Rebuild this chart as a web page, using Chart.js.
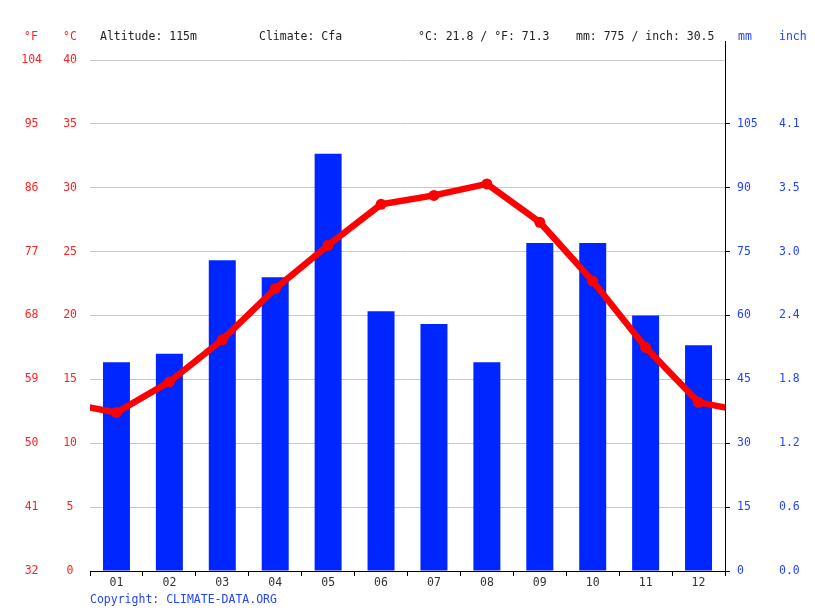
<!DOCTYPE html>
<html>
<head>
<meta charset="utf-8">
<script src="https://cdn.jsdelivr.net/npm/chart.js@4/dist/chart.umd.min.js"></script>
<style>
  html, body { margin: 0; padding: 0; background: #fff; }
  #wrap { position: relative; width: 815px; height: 611px; }
  canvas { position: absolute; left: 0; top: 0; }
  .t { position: absolute; font-family: "DejaVu Sans Mono", monospace; font-size: 11.5px; line-height: 14px; white-space: pre; }
  .red { color: #ff2222; }
  .blue { color: #2244ff; }
  .dark { color: #222; }
</style>
</head>
<body>
<div id="wrap">
  <canvas id="c" width="815" height="611"></canvas>
  <div class="t red" style="left:24px; top:29px;">°F</div>
  <div class="t red" style="left:63px; top:29px;">°C</div>
  <div class="t dark" style="left:100px; top:29px;">Altitude: 115m</div>
  <div class="t dark" style="left:259px; top:29px;">Climate: Cfa</div>
  <div class="t dark" style="left:418px; top:29px;">°C: 21.8 / °F: 71.3</div>
  <div class="t dark" style="left:576px; top:29px;">mm: 775 / inch: 30.5</div>
  <div class="t blue" style="left:738px; top:29px;">mm</div>
  <div class="t blue" style="left:779px; top:29px;">inch</div>
  <div class="t blue" style="left:90px; top:592px;">Copyright: CLIMATE-DATA.ORG</div>
</div>
<script>
// ---- data ----
const months = ['01','02','03','04','05','06','07','08','09','10','11','12'];
const precipMm = [49, 51, 73, 69, 98, 61, 58, 49, 77, 77, 60, 53];
const tempC = [12.4, 14.8, 18.1, 22.1, 25.5, 28.7, 29.4, 30.3, 27.3, 22.7, 17.5, 13.2];
// tick labels
const cTicks = [0, 5, 10, 15, 20, 25, 30, 35, 40];
const fTicks = ['32', '41', '50', '59', '68', '77', '86', '95', '104'];
const mmTicks = [0, 15, 30, 45, 60, 75, 90, 105];
const inchTicks = ['0.0', '0.6', '1.2', '1.8', '2.4', '3.0', '3.5', '4.1'];

const FONT = { family: 'DejaVu Sans Mono', size: 11.5 };
const RED = '#ff0000';
const RED_TEXT = '#ff2222';
const BLUE = '#2244ff';

// line data: wrap December before January and January after December (clipped to plot)
const lineData = [{ x: 0, y: tempC[11] }]
  .concat(tempC.map((v, i) => ({ x: i + 1, y: v })))
  .concat([{ x: 13, y: tempC[0] }]);
const pointRadii = lineData.map((p, i) => (i === 0 || i === lineData.length - 1) ? 0 : 5.5);

const axisExtension = {
  id: 'axisExtension',
  afterDraw(chart) {
    const { ctx, chartArea } = chart;
    ctx.save();
    ctx.strokeStyle = '#000';
    ctx.lineWidth = 1;
    ctx.beginPath();
    const x = Math.round(chartArea.right) + 0.5;
    ctx.moveTo(x, chartArea.top - 19);
    ctx.lineTo(x, chartArea.top);
    ctx.stroke();
    ctx.restore();
  }
};

new Chart(document.getElementById('c'), {
  type: 'bar',
  data: {
    labels: months,
    datasets: [
      {
        type: 'line',
        data: lineData,
        xAxisID: 'x2',
        yAxisID: 'y',
        borderColor: RED,
        backgroundColor: RED,
        borderWidth: 6.5,
        pointRadius: pointRadii,
        pointBackgroundColor: RED,
        pointBorderWidth: 0,
        tension: 0,
        clip: 0,
        order: 0
      },
      {
        type: 'bar',
        data: precipMm,
        xAxisID: 'x',
        yAxisID: 'mm',
        backgroundColor: '#0026ff',
        borderWidth: 0,
        grouped: false,
        barPercentage: 0.51,
        categoryPercentage: 1,
        order: 1
      }
    ]
  },
  options: {
    responsive: false,
    animation: false,
    devicePixelRatio: 1,
    layout: { padding: { top: 60, bottom: 0, left: 0, right: 0 } },
    plugins: { legend: { display: false }, tooltip: { enabled: false } },
    scales: {
      x: {
        type: 'category',
        position: 'bottom',
        offset: true,
        grid: { offset: true, drawOnChartArea: false, drawTicks: true, tickLength: 5, color: '#000' },
        border: { display: true, color: '#000' },
        ticks: { color: '#333', font: FONT, padding: 0, maxRotation: 0 },
        afterFit(s) { s.height = 40; }
      },
      x2: {
        type: 'linear',
        display: false,
        offset: false,
        grid: { offset: false },
        min: 0.5,
        max: 12.5
      },
      y: {
        type: 'linear',
        position: 'left',
        weight: 0,
        min: 0, max: 40,
        afterBuildTicks(s) { s.ticks = cTicks.map(v => ({ value: v })); },
        grid: { color: '#c8c8c8', drawTicks: false },
        border: { display: false },
        ticks: {
          color: RED_TEXT, font: FONT, crossAlign: 'center', padding: 13,
          callback: (v) => String(cTicks[cTicks.indexOf(v)])
        },
        afterFit(s) { s.width = 40; }
      },
      yF: {
        type: 'linear',
        position: 'left',
        weight: 1,
        min: 0, max: 40,
        afterBuildTicks(s) { s.ticks = cTicks.map(v => ({ value: v })); },
        grid: { display: false, drawTicks: false },
        border: { display: false },
        ticks: {
          color: RED_TEXT, font: FONT, crossAlign: 'center', padding: 8,
          callback: (v) => fTicks[cTicks.indexOf(v)]
        },
        afterFit(s) { s.width = 50; }
      },
      mm: {
        type: 'linear',
        position: 'right',
        weight: 0,
        min: 0, max: 120,
        afterBuildTicks(s) { s.ticks = mmTicks.map(v => ({ value: v })); },
        grid: { drawOnChartArea: false, drawTicks: true, tickLength: 5, color: '#000' },
        border: { display: true, color: '#000' },
        ticks: {
          color: BLUE, font: FONT, crossAlign: 'near', padding: 7,
          callback: (v) => String(mmTicks[mmTicks.indexOf(v)])
        },
        afterFit(s) { s.width = 42; }
      },
      inch: {
        type: 'linear',
        position: 'right',
        weight: 1,
        min: 0, max: 120,
        afterBuildTicks(s) { s.ticks = mmTicks.map(v => ({ value: v })); },
        grid: { display: false, drawTicks: false },
        border: { display: false },
        ticks: {
          color: BLUE, font: FONT, crossAlign: 'near', padding: 12,
          callback: (v) => inchTicks[mmTicks.indexOf(v)]
        },
        afterFit(s) { s.width = 48; }
      }
    }
  },
  plugins: [axisExtension]
});
</script>
</body>
</html>
